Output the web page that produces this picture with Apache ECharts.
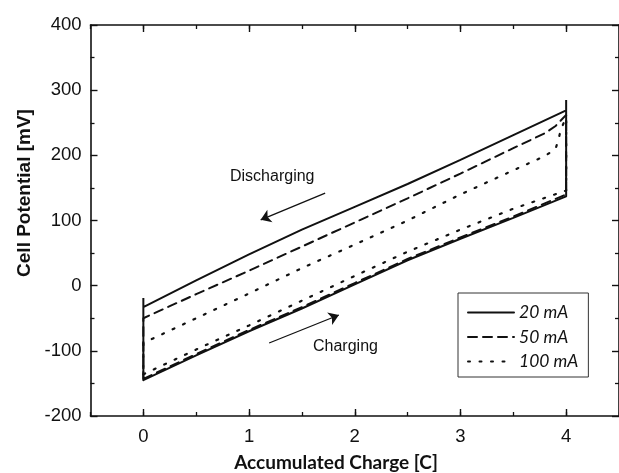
<!DOCTYPE html>
<html>
<head>
<meta charset="utf-8">
<script src="https://cdn.jsdelivr.net/npm/echarts@6/dist/echarts.min.js"></script>
<style>
  html, body { margin: 0; padding: 0; background: #fff; }
  #chart { width: 619px; height: 473px; }
</style>
</head>
<body>
<div id="chart"></div>
<script>
// Galvanostatic cycles: cell potential [mV] vs accumulated charge [C]
const xTickValues = [0, 1, 2, 3, 4];
const seriesNames = ['20 mA', '50 mA', '100 mA'];

// 20 mA: charging branch then discharging branch (closed loop)
const charge20 = [[0, -145], [0.5, -107], [1, -70], [1.5, -35], [2, 2], [2.5, 39], [3, 72], [3.5, 104], [4, 137]];
const discharge20 = [[4, 285], [4, 269], [3.5, 231], [3, 193], [2.5, 156], [2, 121], [1.5, 86], [1, 48], [0.5, 8], [0, -33], [0, -19], [0, -145]];

// 50 mA
const charge50 = [[0, -143], [0.5, -105], [1, -68], [1.5, -33], [2, 4], [2.5, 41], [3, 74], [3.5, 106], [4, 140]];
const discharge50 = [[4, 262], [3.9, 245], [3.8, 234], [3.5, 211], [3, 172], [2.5, 134], [2, 97], [1.5, 60], [1, 23], [0.5, -13], [0, -50], [0, -143]];

// 100 mA
const charge100 = [[0, -136], [0.5, -98], [1, -61], [1.5, -23], [2, 15], [2.5, 52], [3, 86], [3.5, 118], [4, 146]];
const discharge100 = [[4, 258], [3.95, 240], [3.93, 226], [3.9, 210], [3.8, 199], [3.5, 177], [3, 140], [2.5, 100], [2, 63], [1.5, 27], [1, -12], [0.5, -50], [0, -88], [0, -136]];

// Direction arrows (data coordinates): [tail, head]
const dischargeArrow = [[1.72, 142], [1.11, 101]];
const chargeArrow = [[1.19, -88], [1.85, -45]];

const INK = '#111';
const gridRect = { left: 90.5, top: 25, width: 536, height: 391 };

const chart = echarts.init(document.getElementById('chart'), null, { renderer: 'canvas' });

const mainX = (position) => ({
  type: 'value', gridIndex: 0, position: position,
  min: -0.5, max: 4.5, interval: 0.5,
  axisLine: { show: true, onZero: false, lineStyle: { color: INK, width: 1.6 } },
  axisTick: { show: true, inside: true, length: 7, customValues: xTickValues, lineStyle: { color: INK, width: 1.4 } },
  axisLabel: {
    show: position === 'bottom', customValues: xTickValues, margin: 11,
    fontFamily: 'Liberation Sans, Arial, sans-serif', fontSize: 18.5, color: INK
  },
  splitLine: { show: false }
});

const minorX = (position) => ({
  type: 'value', gridIndex: 1, position: position,
  min: -0.5, max: 4.5, interval: 0.5,
  axisLine: { show: false, onZero: false },
  axisTick: { show: true, inside: true, length: 4, lineStyle: { color: INK, width: 1.3 } },
  axisLabel: { show: false },
  splitLine: { show: false }
});

const mainY = (position) => ({
  type: 'value', gridIndex: 0, position: position,
  min: -200, max: 400, interval: 100,
  axisLine: { show: true, onZero: false, lineStyle: { color: INK, width: 1.6 } },
  axisTick: { show: true, inside: true, length: 7, lineStyle: { color: INK, width: 1.4 } },
  minorTick: { show: true, splitNumber: 2, length: 4, lineStyle: { color: INK, width: 1.3 } },
  axisLabel: {
    show: position === 'left', margin: 9,
    fontFamily: 'Liberation Sans, Arial, sans-serif', fontSize: 18.5, color: INK
  },
  splitLine: { show: false }
});

const lineSeries = (name, data, dash) => ({
  name: name, type: 'line', xAxisIndex: 0, yAxisIndex: 0,
  data: data, showSymbol: false, symbol: 'none', smooth: false,
  lineStyle: { color: INK, width: 2, type: dash, cap: 'round' },
  itemStyle: { color: INK },
  z: 3
});

const series = [
  lineSeries(seriesNames[0], charge20.concat(discharge20), 'solid'),
  lineSeries(seriesNames[1], charge50.concat(discharge50), [9, 6]),
  lineSeries(seriesNames[2], charge100.concat(discharge100), [2, 9.5])
];
series[2].lineStyle.width = 2.2;

series[0].markLine = {
  silent: true, animation: false,
  symbol: ['none', 'arrow'], symbolSize: 10,
  label: { show: false },
  lineStyle: { color: INK, width: 1.3, type: 'solid' },
  emphasis: { disabled: true },
  data: [
    [{ coord: dischargeArrow[0] }, { coord: dischargeArrow[1] }],
    [{ coord: chargeArrow[0] }, { coord: chargeArrow[1] }]
  ]
};

chart.setOption({
  animation: false,
  backgroundColor: '#fff',
  grid: [
    Object.assign({ containLabel: false }, gridRect),
    Object.assign({ containLabel: false }, gridRect)
  ],
  xAxis: [mainX('bottom'), mainX('top'), minorX('bottom'), minorX('top')],
  yAxis: [
    mainY('left'), mainY('right'),
    { type: 'value', gridIndex: 1, min: -200, max: 400, interval: 100, show: false }
  ],
  legend: {
    data: seriesNames,
    orient: 'vertical', left: 458, top: 293,
    padding: [10, 10, 6, 9], itemGap: 5.5,
    itemWidth: 46, itemHeight: 14,
    borderColor: '#333', borderWidth: 1,
    selectedMode: false,
    // line-only legend keys: hide the marker drawn over the line
    itemStyle: { opacity: 0, borderWidth: 0 },
    textStyle: { fontFamily: 'Lato, sans-serif', fontStyle: 'italic', fontSize: 17.5, lineHeight: 19, color: INK }
  },
  graphic: [
    {
      type: 'text', x: 25, y: 193, rotation: Math.PI / 2,
      style: {
        text: 'Cell Potential [mV]', fill: INK,
        font: 'bold 19px "Liberation Sans", Arial, sans-serif',
        align: 'center', verticalAlign: 'middle'
      }
    },
    {
      type: 'text', x: 336, y: 463,
      style: {
        text: 'Accumulated Charge [C]', fill: INK,
        font: 'bold 19px Lato, sans-serif',
        align: 'center', verticalAlign: 'middle'
      }
    },
    {
      type: 'text', x: 230, y: 177,
      style: {
        text: 'Discharging', fill: INK,
        font: '16px "Liberation Sans", Arial, sans-serif',
        align: 'left', verticalAlign: 'middle'
      }
    },
    {
      type: 'text', x: 313, y: 347,
      style: {
        text: 'Charging', fill: INK,
        font: '16px "Liberation Sans", Arial, sans-serif',
        align: 'left', verticalAlign: 'middle'
      }
    }
  ],
  series: series
});
</script>
</body>
</html>
